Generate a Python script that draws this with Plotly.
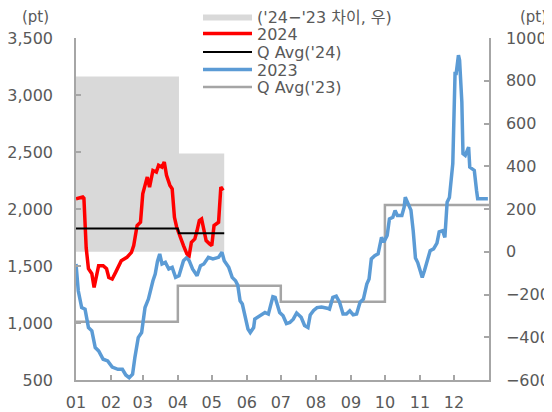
import pandas as pd
import plotly.graph_objects as go

# ---------------- data ----------------
# x positions are day-of-year offsets from Jan 1
red_days = [0, 6, 7, 9, 11, 14, 16, 18, 20, 24, 27, 29, 32, 35, 37, 40, 45, 49, 51, 54, 57,
            59, 61, 63, 65, 68, 71, 73, 76, 78, 80, 83, 85, 87, 89, 92, 95, 98, 100, 102, 105,
            107, 109, 111, 113, 115, 118, 120, 122, 126, 128, 130]
red_vals = [2090, 2105, 2095, 1660, 1476, 1433, 1312, 1400, 1503, 1503, 1476, 1400, 1386, 1444,
            1487, 1547, 1576, 1620, 1679, 1855, 1884, 2133, 2207, 2280, 2192, 2338, 2324, 2383,
            2368, 2412, 2295, 2207, 2177, 1927, 1840, 1752, 1679, 1606, 1591, 1708, 1738, 1811,
            1899, 1913, 1811, 1723, 1694, 1679, 1855, 1884, 2192, 2163]

blue_days = [0, 2, 5, 8, 11, 14, 17, 20, 24, 28, 32, 37, 41, 44, 47, 50, 52, 55, 58, 61, 64, 66,
             68, 70, 72, 74, 76, 79, 82, 85, 88, 91, 95, 98, 100, 103, 107, 110, 113, 117, 121,
             126, 129, 131, 135, 138, 141, 143, 145, 147, 149, 152, 154, 157, 158, 163, 167, 170,
             172, 174, 176, 178, 180, 183, 186, 189, 192, 195, 199, 202, 205, 207, 210, 213, 217,
             222, 224, 227, 230, 233, 236, 239, 242, 245, 248, 251, 254, 257, 259, 261, 264, 267,
             270, 272, 275, 277, 280, 282, 284, 288, 290, 291, 294, 296, 298, 300, 302, 304, 306,
             308, 310, 313, 316, 319, 321, 324, 326, 328, 330, 333, 335, 336, 338, 339, 341, 342,
             344, 347, 348, 352, 354, 355, 364]
blue_vals = [1518, 1283, 1136, 1122, 960, 931, 784, 755, 682, 667, 614, 594, 594, 544, 520, 550,
             696, 872, 916, 1136, 1210, 1300, 1371, 1430, 1540, 1606, 1518, 1532, 1474, 1488, 1400,
             1415, 1547, 1576, 1547, 1474, 1415, 1503, 1518, 1576, 1562, 1576, 1620, 1547, 1488,
             1400, 1371, 1330, 1195, 1166, 1078, 946, 916, 960, 1034, 1063, 1092, 1078, 1151, 1230,
             1224, 1151, 1092, 1063, 995, 1004, 1034, 1088, 1050, 978, 960, 1070, 1110, 1135, 1140,
             1130, 1122, 1224, 1235, 1180, 1078, 1078, 1107, 1072, 1078, 1180, 1210, 1341, 1386,
             1562, 1591, 1606, 1752, 1708, 1767, 1913, 1927, 1987, 1943, 1943, 2016, 2104, 2045,
             1990, 1810, 1570, 1530, 1450, 1400, 1460, 1535, 1635, 1650, 1700, 1800, 1810, 1750,
             2060, 2100, 2397, 3189, 3189, 3350, 3306, 2939, 2485, 2470, 2543, 2368, 2339, 2163,
             2090, 2090]

q24_days = [0, 90, 91, 131]
q24_vals = [1828, 1828, 1787, 1787]

q23_days = [0, 90, 90, 181, 181, 273, 273, 365]
q23_vals = [1010, 1010, 1327, 1327, 1186, 1186, 2035, 2035]

diff_days = [0, 91, 131]
diff_vals = [820, 460, 460]

month_labels = ["01", "02", "03", "04", "05", "06", "07", "08", "09", "10", "11", "12"]

names = ["('24\u2212'23 차이, 우)", "2024", "Q Avg('24)", "2023", "Q Avg('23)"]

# ---------------- helpers ----------------
base = pd.Timestamp("2023-01-01")


def to_dates(days):
    return [base + pd.Timedelta(days=d) for d in days]


month_ticks = list(pd.date_range("2023-01-01", periods=12, freq="MS"))

FONT = "DejaVu Sans, Noto Sans CJK KR, sans-serif"
TXT = "#595959"
AX = "#a6a6a6"

# the page body adds an 8px margin, so the figure is drawn 8px smaller and offset
OFF = 8
WIN_W, WIN_H = 552, 412
W, H = WIN_W - OFF, WIN_H - OFF

fig = go.Figure()

# area on primary (right-side) axis so the lines on the overlaying axis draw above it
fig.add_trace(go.Scatter(x=to_dates(diff_days), y=diff_vals, mode="lines",
                         line=dict(width=0, shape="hv", color="#d9d9d9"),
                         fill="tozeroy", fillcolor="#d9d9d9", yaxis="y",
                         name=names[0], legend="legend"))
fig.add_trace(go.Scatter(x=to_dates(q23_days), y=q23_vals, mode="lines",
                         line=dict(width=2.5, color="#a5a5a5"), yaxis="y2",
                         name=names[4], legend="legend5"))
fig.add_trace(go.Scatter(x=to_dates(blue_days), y=blue_vals, mode="lines",
                         line=dict(width=3.5, color="#5b9bd5"), yaxis="y2",
                         name=names[3], legend="legend4"))
fig.add_trace(go.Scatter(x=to_dates(red_days), y=red_vals, mode="lines",
                         line=dict(width=3.5, color="#ff0000"), yaxis="y2",
                         name=names[1], legend="legend2"))
fig.add_trace(go.Scatter(x=to_dates(q24_days), y=q24_vals, mode="lines",
                         line=dict(width=2, color="#000000"), yaxis="y2",
                         name=names[2], legend="legend3"))

# plot area in window pixels: x 76..489, y 38..380
PL, PR, PT, PB = 76, 489, 38, 380


def px_y(py):
    return (PB - py) / (PB - PT)


def px_x(px):
    return (px - PL) / (PR - PL)


legend_rows = [16.5, 33.5, 52, 69.5, 87]
leg_common = dict(xanchor="left", yanchor="middle", bgcolor="rgba(0,0,0,0)",
                  xref="container", yref="container",
                  font=dict(family=FONT, size=16, color=TXT), itemwidth=49,
                  borderwidth=0, tracegroupgap=0)
legends = {}
for i, key in enumerate(["legend", "legend2", "legend3", "legend4", "legend5"]):
    legends[key] = dict(x=(198 - OFF) / W, y=1 - (legend_rows[i] - OFF) / H, **leg_common)

axis_common = dict(showline=True, linecolor=AX, linewidth=1.5, ticks="inside", ticklen=5,
                   tickcolor=AX, tickwidth=1.5, showgrid=False, zeroline=False,
                   automargin=False, tickfont=dict(size=16, color=TXT))

fig.update_layout(
    width=W, height=H,
    margin=dict(l=PL - OFF, r=WIN_W - PR, t=PT - OFF, b=WIN_H - PB, autoexpand=False),
    paper_bgcolor="white", plot_bgcolor="white",
    font=dict(family=FONT, size=16, color=TXT),
    showlegend=True,
    xaxis=dict(type="date", range=[base, base + pd.Timedelta(days=365)],
               tickvals=month_ticks, ticktext=month_labels, ticklabelstandoff=7,
               **axis_common),
    yaxis=dict(range=[-600, 1000], dtick=200, side="right", ticklabelstandoff=12,
               **axis_common),
    yaxis2=dict(range=[500, 3500], dtick=500, side="left", overlaying="y", tickformat=",",
                ticklabelstandoff=18, **axis_common),
    annotations=[
        dict(text="(pt)", xref="paper", yref="paper", x=px_x(35), y=px_y(17),
             showarrow=False, xanchor="center", yanchor="middle", borderpad=0,
             font=dict(size=15, color=TXT)),
        dict(text="(pt)", xref="paper", yref="paper", x=px_x(533), y=px_y(17),
             showarrow=False, xanchor="center", yanchor="middle", borderpad=0,
             font=dict(size=15, color=TXT)),
    ],
    **legends,
)

fig.write_html("out.html")
